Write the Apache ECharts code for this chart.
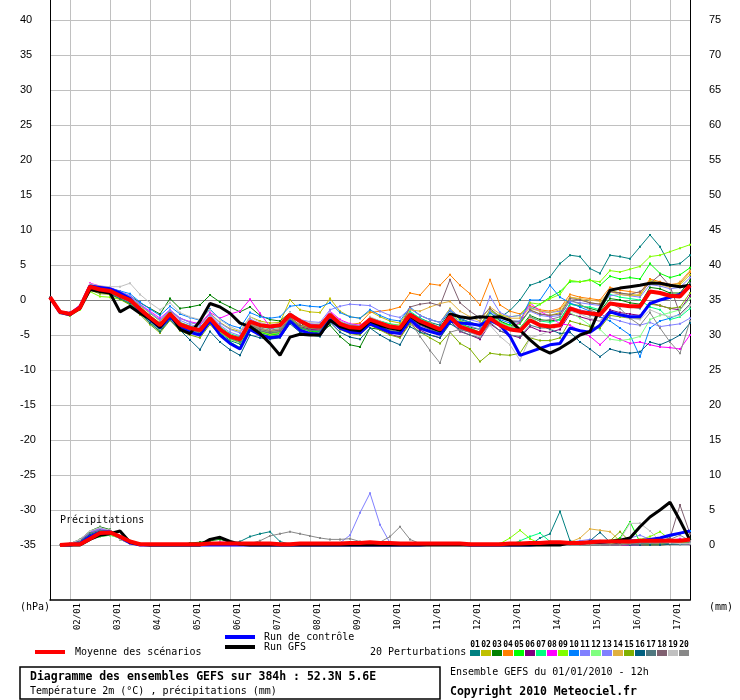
<!DOCTYPE html>
<html><head><meta charset="utf-8">
<script src="https://cdn.jsdelivr.net/npm/echarts@6/dist/echarts.min.js"></script>
<style>html,body{margin:0;padding:0;background:#fff}#c{width:740px;height:700px}</style>
</head><body><div id="c"></div>
<script>
// ---------- DATA (6-hourly, from 01/01/2010 12h, 65 steps = 384h) ----------
const dateLabels = ['02/01','03/01','04/01','05/01','06/01','07/01','08/01','09/01','10/01','11/01','12/01','13/01','14/01','15/01','16/01','17/01'];
const pertNames = ['01','02','03','04','05','06','07','08','09','10','11','12','13','14','15','16','17','18','19','20'];
const pertColors = ['#008080','#c0c000','#008000','#ff8000','#00ff00','#800080','#00ff80','#ff00ff','#80ff00','#0080ff','#8080ff','#80ff80','#8080ff','#e0b040','#80b000','#006080','#507880','#806070','#c0c0c0','#888888'];

// Temperature 2m (°C)
const tempMean = [0.4,-1.7,-2.0,-1.1,1.9,1.5,1.3,0.6,0.0,
 -1.3,-2.5,-3.6,-2.0,-3.5,-4.0,-4.3,-2.6,-4.2,-5.2,-5.6,
 -3.1,-3.6,-3.8,-3.6,-2.1,-3.0,-3.7,-3.8,-2.1,-3.4,-3.9,-4.0,
 -2.8,-3.3,-3.8,-4.0,-2.1,-3.0,-3.6,-4.2,-2.4,-3.8,-4.3,-4.8,
 -2.6,-3.6,-4.2,-4.4,-2.9,-3.6,-3.8,-3.6,
 -1.2,-1.7,-1.9,-2.1,-0.5,-0.7,-0.9,-0.9,1.2,1.0,0.6,0.5,2.1];
const tempControl = [0.4,-1.8,-2.1,-1.0,2.0,1.8,1.6,1.0,0.2,
 -1.5,-2.8,-4.0,-2.4,-3.8,-4.6,-5.0,-3.0,-5.0,-6.2,-7.0,
 -4.2,-5.0,-5.4,-5.2,-3.0,-4.3,-4.8,-4.9,-2.8,-4.0,-4.6,-4.7,
 -3.4,-4.0,-4.6,-4.8,-2.8,-4.0,-4.5,-4.9,-3.0,-3.3,-3.4,-3.6,
 -2.9,-3.6,-5.2,-7.9,-7.4,-6.9,-6.4,-6.2,
 -4.0,-4.4,-4.6,-3.6,-1.7,-2.1,-2.4,-2.4,-0.5,0.0,0.4,0.8,1.9];
const tempGFS = [0.4,-1.7,-2.0,-1.2,1.5,1.2,1.0,-1.7,-0.9,
 -1.9,-2.7,-3.9,-1.9,-4.2,-4.8,-3.0,-0.5,-1.0,-1.9,-3.3,
 -3.8,-4.8,-6.2,-7.9,-5.3,-4.9,-5.0,-5.0,-2.9,-3.8,-4.2,-4.4,
 -3.0,-3.6,-4.0,-4.3,-2.3,-3.3,-3.9,-4.4,-2.0,-2.4,-2.6,-2.4,
 -2.5,-2.4,-2.9,-4.3,-5.7,-6.9,-7.6,-6.9,
 -6.0,-5.0,-4.5,-1.2,1.4,1.7,1.9,2.1,2.4,2.4,2.1,1.9,2.1];

const tempP01 = [0.4,-1.8,-2.2,-1.2,1.7,1.4,1.2,0.5,-0.3,
 -1.6,-2.9,-4.1,-2.5,-4.0,-4.6,-5.0,-3.1,-4.6,-5.8,-6.3,
 -4.0,-4.6,-5.0,-4.8,-3.0,-4.0,-4.4,-4.5,-2.5,-3.8,-4.4,-4.6,
 -2.6,-3.0,-3.5,-3.8,-1.8,-2.6,-3.2,-3.6,-1.5,-2.8,-3.2,-3.6,
 -1.5,-2.5,-1.5,0.0,2.1,2.6,3.3,5.2,
 6.4,6.2,4.5,3.8,6.4,6.2,5.9,7.6,9.3,7.6,5.0,5.2,6.4];
const tempP02 = [0.4,-1.6,-1.9,-0.9,2.2,1.7,1.5,0.9,0.4,
 -0.8,-1.9,-3.0,-1.6,-2.6,-3.2,-3.6,-1.9,-3.2,-4.1,-4.5,
 -2.4,-3.0,-3.3,-3.2,0.0,-1.4,-1.7,-1.8,0.2,-1.6,-2.4,-2.6,
 -1.6,-2.4,-3.0,-3.3,-1.2,-2.2,-2.8,-3.2,-1.2,-2.6,-3.2,-3.6,
 -1.4,-2.4,-2.9,-3.1,-1.5,-2.0,-2.2,-1.8,
 0.4,0.1,-0.4,-0.6,1.4,1.0,0.8,0.6,2.8,2.4,2.0,2.2,3.6];
const tempP03 = [0.4,-1.7,-2.0,-1.0,1.8,1.6,1.5,1.0,0.6,
 -0.4,-1.2,-2.0,0.2,-1.2,-1.0,-0.7,0.7,-0.3,-1.0,-1.7,
 -1.0,-2.2,-2.8,-3.0,-1.8,-3.2,-4.4,-4.8,-3.6,-5.2,-6.4,-6.7,
 -4.0,-4.2,-4.6,-4.8,-2.6,-3.4,-3.9,-4.4,-2.2,-3.4,-3.9,-4.2,
 -1.8,-3.0,-3.6,-4.0,-2.2,-2.8,-3.0,-2.8,
 -0.6,-0.8,-1.2,-1.6,0.2,0.0,-0.4,-0.6,1.8,1.6,1.0,1.0,2.8];
const tempP04 = [0.4,-1.6,-1.9,-1.0,2.0,1.6,1.3,0.6,0.0,
 -1.2,-2.4,-3.5,-1.8,-3.2,-3.8,-4.2,-2.6,-4.0,-5.1,-5.6,
 -3.6,-4.3,-4.6,-4.4,-2.6,-3.8,-4.1,-4.2,-2.2,-3.2,-3.5,-3.3,
 -1.8,-1.6,-1.4,-1.0,1.0,0.7,2.3,2.1,3.6,2.1,0.9,-0.7,
 2.9,-0.7,-1.6,-2.0,-0.8,-1.4,-1.6,-1.2,
 0.8,0.4,0.2,0.0,1.8,1.4,1.2,1.0,3.0,2.6,2.2,2.4,4.0];
const tempP05 = [0.4,-1.8,-2.1,-1.1,1.7,1.3,1.1,0.4,-0.4,
 -1.7,-3.0,-4.2,-2.4,-3.9,-4.5,-5.0,-3.2,-4.8,-6.0,-6.8,
 -3.8,-4.6,-5.0,-4.8,-2.8,-4.0,-4.4,-4.6,-2.6,-3.9,-4.5,-4.7,
 -3.2,-3.8,-4.4,-4.6,-2.4,-3.4,-4.0,-4.7,-2.6,-3.9,-4.4,-5.0,
 -2.4,-3.2,-3.6,-3.4,-1.4,-0.6,0.4,1.2,
 2.6,2.6,2.9,2.1,3.4,3.0,3.2,3.0,5.2,3.8,3.2,3.6,4.6];
const tempP06 = [0.4,-1.7,-2.0,-1.1,1.9,1.5,1.2,0.5,-0.2,
 -1.5,-2.8,-3.9,-2.3,-3.6,-4.2,-4.6,-2.9,-4.3,-5.3,-5.9,
 -3.6,-4.4,-4.8,-4.6,-2.6,-3.8,-4.2,-4.3,-2.5,-3.8,-4.4,-4.6,
 -3.4,-4.2,-4.9,-5.3,-3.2,-4.3,-5.0,-5.4,-3.0,-4.5,-5.0,-5.6,
 -3.4,-4.4,-5.0,-5.4,-3.8,-4.4,-4.6,-4.2,
 -2.0,-2.4,-2.8,-3.0,-1.4,-1.8,-2.0,-2.2,-0.4,-0.8,-1.2,-1.4,0.6];
const tempP07 = [0.4,-1.7,-2.0,-1.0,2.1,1.7,1.4,0.8,0.2,
 -1.0,-2.2,-3.3,-1.8,-3.2,-3.7,-4.1,-2.5,-3.8,-4.8,-5.3,
 -3.1,-3.8,-4.1,-3.9,-2.1,-3.2,-3.5,-3.6,-1.8,-3.1,-3.6,-3.8,
 -2.5,-3.0,-3.4,-3.6,-1.6,-2.6,-3.3,-4.0,-2.0,-3.4,-4.0,-4.6,
 -2.2,-3.2,-3.8,-4.0,-2.4,-3.0,-3.2,-2.8,
 -0.6,-0.9,-1.0,-1.4,0.8,0.4,0.2,0.0,-1.0,-1.4,-2.8,-2.4,-1.2];
const tempP08 = [0.4,-1.6,-1.8,-0.7,2.4,2.0,1.8,1.2,0.6,
 -0.6,-1.6,-2.6,-1.4,-2.6,-3.1,-3.4,-1.8,-2.6,-2.0,-1.6,
 0.1,-1.9,-3.8,-4.8,-2.4,-3.2,-3.4,-3.6,-1.6,-2.8,-3.4,-3.6,
 -2.6,-3.4,-4.0,-4.4,-2.6,-3.6,-4.2,-4.8,-2.8,-4.2,-4.6,-5.2,
 -2.6,-3.8,-4.0,-3.2,-0.4,-1.6,-2.4,-3.4,
 -3.6,-4.4,-5.2,-6.4,-5.0,-5.6,-6.2,-6.0,-6.4,-6.7,-6.8,-7.0,-5.0];
const tempP09 = [0.4,-1.9,-2.3,-1.4,1.2,0.5,0.4,0.1,-0.6,
 -1.9,-3.2,-4.4,-2.6,-4.1,-4.7,-5.1,-3.2,-4.6,-5.6,-6.1,
 -3.8,-4.5,-4.9,-4.6,-2.6,-3.7,-4.0,-4.1,-2.3,-3.5,-4.0,-4.2,
 -2.8,-3.3,-3.8,-4.0,-2.0,-2.8,-3.3,-3.9,-2.0,-3.0,-3.4,-3.8,
 -1.6,-2.2,-2.4,-2.2,-0.4,-0.6,0.2,0.8,
 2.8,2.6,2.8,2.6,4.2,4.0,4.4,4.8,6.2,6.4,6.9,7.4,7.9];
const tempP10 = [0.4,-1.6,-1.8,-0.8,2.2,1.9,1.7,1.3,0.9,
 -0.3,-1.3,-2.2,-0.9,-2.0,-2.5,-2.9,-1.3,-2.7,-3.6,-4.0,
 -1.8,-2.4,-2.6,-2.4,-0.9,-0.7,-0.9,-1.0,-0.4,-1.8,-2.4,-2.6,
 -1.4,-2.2,-2.8,-3.0,-1.0,-2.2,-2.8,-3.2,-1.4,-2.6,-3.2,-3.8,
 -1.8,-2.8,-3.3,-3.0,0.0,0.0,2.1,0.4,
 -0.4,-1.0,-1.6,-2.4,-3.0,-4.0,-5.0,-8.1,-4.0,-3.0,-2.6,-2.0,-0.6];
const tempP11 = [0.4,-1.7,-2.0,-1.0,2.1,1.8,1.6,1.1,0.5,
 -0.7,-1.8,-2.8,-1.4,-2.6,-3.2,-3.6,-2.0,-3.3,-4.2,-4.7,
 -2.7,-3.4,-3.7,-3.5,-1.8,-2.8,-3.1,-3.2,-1.4,-0.9,-0.6,-0.7,
 -0.8,-1.6,-2.2,-2.5,-1.2,-2.2,-2.8,-3.2,-1.4,-2.4,-2.8,-3.2,
 0.5,-1.8,-2.4,-2.2,-1.0,-1.6,-1.8,-1.6,
 -1.0,-1.4,-1.8,-2.0,-2.6,-3.0,-3.4,-3.6,-3.2,-3.8,-3.6,-3.4,-2.6];
const tempP12 = [0.4,-1.8,-2.1,-1.2,1.6,1.2,1.0,0.3,-0.4,
 -1.8,-3.1,-4.2,-2.5,-3.9,-4.4,-4.8,-3.0,-4.4,-5.4,-5.9,
 -3.6,-4.3,-4.6,-4.4,-2.5,-3.6,-3.9,-4.0,-2.2,-3.5,-4.0,-4.2,
 -2.9,-3.5,-4.0,-4.3,-2.3,-3.2,-3.8,-4.4,-2.4,-3.8,-4.3,-4.8,
 -2.2,-3.2,-3.8,-4.0,-2.4,-3.4,-3.6,-3.4,
 -1.8,-2.6,-3.6,-4.2,-5.6,-5.8,-5.6,-5.2,-2.8,-2.2,-1.8,-1.4,0.2];
const tempP13 = [0.4,-1.6,-1.9,-0.9,2.3,1.9,1.7,1.2,0.6,
 -0.6,-1.8,-2.9,-1.5,-2.9,-3.5,-3.9,-2.2,-3.6,-4.6,-5.1,
 -3.0,-3.7,-4.0,-3.8,-2.0,-3.1,-3.4,-3.5,-1.8,-3.0,-3.5,-3.7,
 -2.6,-3.2,-3.7,-3.9,-1.9,-2.8,-3.4,-3.9,-2.0,-3.2,-3.7,-4.2,
 -1.6,-2.6,-3.0,-3.0,-1.6,-2.2,-2.4,-2.2,
 -0.2,-0.4,-0.6,-0.8,0.6,0.8,0.6,0.4,2.2,2.0,1.6,1.8,3.2];
const tempP14 = [0.4,-1.7,-2.0,-1.1,1.9,1.4,1.2,0.5,-0.1,
 -1.4,-2.6,-3.7,-2.1,-3.5,-4.0,-4.4,-2.8,-4.1,-5.1,-5.6,
 -3.4,-4.1,-4.4,-4.2,-2.4,-3.6,-3.9,-4.0,-2.3,-3.6,-4.1,-4.3,
 -3.0,-3.4,-3.6,-3.6,-1.4,-1.6,-1.0,-0.5,-0.2,-1.6,-2.4,-3.0,
 -1.0,-2.0,-2.6,-2.6,-1.2,-1.6,-1.8,-1.4,
 0.4,0.2,0.0,-0.2,1.2,0.8,0.6,0.8,2.6,2.2,1.8,2.6,4.2];
const tempP15 = [0.4,-1.8,-2.2,-1.3,1.4,0.9,0.8,0.1,-0.7,
 -2.1,-3.5,-4.7,-2.9,-4.4,-5.0,-5.4,-3.5,-5.0,-6.2,-7.0,
 -4.2,-4.8,-5.2,-5.0,-3.0,-4.2,-4.6,-4.8,-3.0,-4.2,-4.8,-5.0,
 -3.6,-4.3,-5.0,-5.4,-3.4,-4.6,-5.4,-6.2,-4.6,-6.2,-7.0,-8.8,
 -7.6,-7.8,-7.9,-7.6,-5.4,-5.8,-5.8,-5.4,
 -3.0,-3.4,-3.8,-4.0,-2.2,-2.4,-2.6,-2.6,-0.6,-0.8,-1.2,-1.0,1.0];
const tempP16 = [0.4,-1.8,-2.1,-1.2,1.6,1.1,0.9,0.2,-0.5,
 -1.9,-3.3,-4.5,-2.8,-4.3,-5.7,-7.1,-4.5,-6.0,-7.1,-7.9,
 -5.0,-5.4,-5.6,-5.4,-3.4,-4.6,-5.0,-5.2,-3.2,-4.6,-5.3,-5.6,
 -4.0,-5.0,-5.8,-6.4,-3.8,-4.6,-5.0,-5.4,-3.4,-4.2,-4.6,-5.0,
 -2.8,-3.6,-4.0,-4.2,-3.0,-3.6,-4.2,-4.8,
 -4.6,-6.0,-7.0,-8.1,-7.0,-7.4,-7.6,-7.4,-6.0,-6.4,-5.8,-5.0,-3.3];
const tempP17 = [0.4,-1.7,-2.0,-1.1,1.8,1.4,1.1,0.4,-0.3,
 -1.6,-2.9,-4.0,-2.3,-3.7,-4.3,-4.7,-3.0,-4.4,-5.5,-6.0,
 -3.7,-4.4,-4.7,-4.5,-2.7,-3.9,-4.3,-4.4,-2.6,-3.9,-4.4,-4.6,
 -3.2,-3.8,-4.3,-4.6,-2.6,-3.6,-4.2,-4.8,-3.0,-4.4,-5.0,-5.4,
 -3.2,-4.4,-5.0,-5.2,-3.6,-4.0,-4.0,-3.6,
 -1.4,-1.8,-2.2,-2.4,-0.6,-0.8,-1.0,-1.2,1.0,1.0,0.8,0.6,2.4];
const tempP18 = [0.4,-1.7,-2.0,-1.0,2.0,1.6,1.3,0.6,0.0,
 -1.3,-2.6,-3.7,-2.1,-3.5,-4.1,-4.5,-2.8,-4.2,-5.2,-5.7,
 -3.5,-4.2,-4.5,-4.3,-2.5,-3.6,-4.0,-4.1,-2.3,-3.6,-4.1,-4.3,
 -2.8,-3.4,-3.8,-4.0,-1.0,-0.6,-0.4,-0.8,2.9,-0.4,-1.6,-2.6,
 -1.2,-2.4,-3.0,-3.2,-1.4,-2.0,-2.2,-2.0,
 0.2,0.0,-0.4,-0.6,1.2,1.0,0.8,1.2,2.4,3.6,2.0,-2.0,-0.6];
const tempP19 = [0.4,-1.6,-1.9,-0.8,2.3,2.0,1.9,1.9,2.4,
 0.8,-0.4,-1.4,-0.4,-1.8,-2.4,-2.8,-1.4,-2.8,-3.8,-4.4,
 -2.4,-3.2,-3.6,-3.4,-1.8,-2.9,-3.2,-3.4,-1.8,-3.0,-3.6,-3.8,
 -2.4,-3.0,-3.6,-4.0,-2.2,-3.2,-3.8,-4.4,-2.6,-4.0,-4.6,-5.2,
 -3.6,-5.2,-6.4,-8.6,-5.4,-5.0,-4.4,-3.6,
 -1.6,-2.0,-2.6,-3.0,-1.8,-2.2,-2.6,-2.8,-1.4,-2.0,-2.4,-2.2,-0.8];
const tempP20 = [0.4,-1.7,-2.0,-1.1,1.8,1.4,1.2,0.5,-0.2,
 -1.5,-2.7,-3.8,-2.2,-3.6,-4.1,-4.5,-2.9,-4.2,-5.2,-5.6,
 -3.3,-4.0,-4.3,-4.1,-2.2,-3.3,-3.6,-3.7,-2.0,-3.2,-3.6,-3.8,
 -2.6,-3.4,-4.2,-4.8,-3.0,-5.2,-7.2,-9.0,-4.6,-4.2,-4.6,-5.0,
 -2.6,-3.6,-4.0,-4.4,-2.4,-3.0,-2.8,-2.4,
 0.0,-0.6,-1.4,-2.0,-0.4,-1.2,-2.6,-3.6,-1.8,-4.0,-6.0,-7.6,-3.0];

// Precipitation (mm per 6h), first step has no value
const precipMean = [null,0,0.1,0.1,0.9,1.7,1.8,1.2,0.5,0.1,0.1,0.1,0.1,
 0.1,0.1,0.1,0.2,0.2,0.2,0.2,0.2,0.2,0.2,0.1,0.1,0.2,
 0.2,0.2,0.2,0.2,0.3,0.3,0.4,0.3,0.3,0.2,0.2,0.2,0.2,
 0.2,0.2,0.2,0.1,0.1,0.1,0.1,0.2,0.2,0.3,0.3,0.4,0.4,
 0.3,0.3,0.4,0.5,0.5,0.5,0.5,0.6,0.6,0.6,0.6,0.6,0.8];
const precipControl = [null,0,0,0.2,1.2,1.8,1.9,1.1,0.3,0,0,0,0,
 0,0,0,0,0,0,0,0,0,0,0,0,0,
 0,0,0,0,0,0,0,0,0,0,0,0,0.1,
 0.1,0.1,0.1,0,0,0,0,0,0,0,0.1,0.1,0.2,
 0.3,0.3,0.4,0.4,0.5,0.5,0.6,0.6,0.8,1.0,1.4,1.7,2.0];
const precipGFS = [null,0,0,0,0.8,1.4,1.6,2.0,0.4,0.1,0,0,0,
 0,0,0,0.8,1.1,0.5,0.1,0,0,0,0,0,0,
 0,0,0,0,0,0,0,0,0,0,0,0,0,
 0,0,0,0,0,0,0,0,0,0,0,0,0,
 0.3,0.3,0.4,0.4,0.5,0.7,1.0,2.6,4.0,5.0,6.1,3.5,0.7];
const precipP01 = [null,0,0.1,0.5,1.6,2.2,2.0,1.0,0.3,0,0,0,0,
 0,0,0,0,0.1,0.2,0.5,1.2,1.6,1.9,0.5,0.1,0,
 0,0,0,0,0,0,0,0,0,0,0,0,0,
 0,0,0,0,0,0,0,0,0,0,1.0,1.6,4.8,
 0.6,0.3,0.2,0.2,0.1,0.1,0.1,0.1,0.2,0.2,0.2,0.3,0.4];
const precipP02 = [null,0,0,0.3,1.2,1.6,1.8,1.2,0.5,0.1,0,0,0,
 0,0,0,0,0,0,0,0,0,0,0,0,0,
 0,0,0,0,0,0,0.1,0.2,0.3,0.2,0,0,0,
 0,0,0,0,0,0,0,0,0,0,0,0,0,
 0,0,0.2,0.4,0.3,0.2,0.1,0,0,0.2,0.4,0.6,0.8];
const precipP03 = [null,0,0.2,0.8,2.0,2.6,2.2,0.8,0.2,0,0,0,0,
 0,0.3,0.4,0.6,0.8,0.4,0.1,0,0,0,0,0,0,
 0,0,0,0,0,0,0,0,0,0,0,0,0,
 0,0,0,0,0,0,0,0.2,0.3,0.2,0,0,0,
 0,0,0,0,0,0,0.1,0.2,0.2,0.3,0.4,0.6,0.9];
const precipP04 = [null,0,0.1,0.4,1.4,1.9,1.9,1.1,0.3,0,0,0,0,
 0,0,0,0,0,0,0,0,0,0,0,0,0,
 0,0,0,0,0,0,0,0,0,0,0,0,0.1,
 0.2,0.3,0.3,0.2,0.1,0,0,0,0,0,0,0,0,
 0,0,0.1,0.2,0.1,0,0,0,0,0,0.1,0.2,0.3];
const precipP05 = [null,0,0,0.2,0.8,1.2,1.4,1.0,0.4,0.1,0,0,0,
 0,0,0,0,0,0,0,0,0,0,0,0,0,
 0,0,0,0,0,0,0,0,0,0,0,0,0,
 0,0,0,0,0,0,0,0,0,0,0,0,0,
 0,0.2,0.3,0.5,0.6,1.0,3.3,0.4,0.2,0.3,0.4,0.5,0.7];
const precipP06 = [null,0,0.1,0.6,1.8,2.4,2.1,0.9,0.2,0,0,0,0,
 0,0,0,0,0,0,0,0,0,0,0,0,0,
 0,0,0,0,0,0,0,0,0,0,0,0,0,
 0,0,0,0,0,0,0,0,0,0,0,0,0,
 0,0,0,0,0,0,0,0.2,0.4,0.6,0.4,0.2,0.1];
const precipP07 = [null,0,0,0.3,1.3,1.8,1.9,1.1,0.4,0.1,0,0,0,
 0,0,0,0,0,0,0,0,0,0,0,0,0,
 0,0,0,0,0,0,0,0,0,0,0,0,0,
 0,0,0,0,0,0,0,0,0.6,1.2,1.7,0.5,0.1,
 0,0,0,0,0.1,0.2,0.3,0.3,0.2,0.2,0.3,0.4,0.5];
const precipP08 = [null,0,0.2,0.7,1.8,2.3,2.0,0.9,0.2,0,0,0,0,
 0,0,0,0.3,0.4,0.4,0.3,0,0,0,0,0,0,
 0,0,0,0,0,0,0,0,0,0,0,0,0,
 0,0,0,0,0,0,0,0,0,0,0,0,0,
 0,0,0,0,0,0,0,0,0.1,0.3,0.6,0.9,0.5];
const precipP09 = [null,0,0.1,0.4,1.0,1.3,1.5,1.2,0.6,0.2,0,0,0,
 0,0,0,0,0,0,0,0,0,0,0,0,0,
 0,0,0,0,0,0,0,0,0,0,0,0,0,
 0,0,0,0,0,0,0.2,1.0,2.1,0.9,0.2,0,0,
 0,0,0,0,0.2,0.4,0.6,0.8,1.2,1.9,0.8,0.5,0.6];
const precipP10 = [null,0,0,0.3,1.2,1.6,1.7,1.1,0.5,0.1,0,0,0,
 0,0,0,0,0,0,0,0,0,0,0,0,0,
 0,0,0,0,0,0,0,0,0,0,0,0,0,
 0,0,0,0,0,0,0,0,0,0,0,0,0,
 0,0,0.1,0.2,0.3,0.4,0.5,0.6,0.8,1.0,1.2,1.6,2.0];
const precipP11 = [null,0,0.2,0.6,1.8,2.4,2.0,0.9,0.2,0,0,0,0,
 0,0,0,0,0,0,0,0,0,0,0,0,0,
 0,0,0.1,0.3,1.4,4.6,7.4,2.9,0.3,0,0,0,0,
 0,0,0,0,0,0,0,0,0,0,0,0,0,
 0,0,0,0,0.2,0.6,1.0,1.4,0.8,0.4,0.3,0.3,0.4];
const precipP12 = [null,0,0,0.2,0.8,1.2,1.4,1.0,0.4,0.1,0,0,0,
 0,0,0,0,0,0,0,0,0,0,0,0,0,
 0,0,0,0,0,0,0,0,0,0,0,0,0,
 0,0,0,0,0,0,0,0,0,0,0,0,0,
 0,0,0,0.1,0.2,0.2,0.3,0.4,0.6,0.4,0.3,0.2,0.2];
const precipP13 = [null,0,0.1,0.5,1.6,2.2,2.0,1.0,0.3,0,0,0,0,
 0,0,0,0,0,0,0,0,0,0,0,0,0,
 0,0,0,0,0,0,0,0,0,0,0,0,0,
 0,0,0,0,0,0,0,0,0,0,0.1,0.2,0.3,
 0.4,0.6,0.8,0.6,0.4,0.3,0.4,0.5,0.6,0.4,0.3,0.3,0.4];
const precipP14 = [null,0,0.1,0.4,1.4,1.9,1.9,1.1,0.3,0,0,0,0,
 0,0,0,0,0,0,0,0,0,0,0,0,0,
 0,0,0,0,0,0,0,0,0,0,0,0,0,
 0,0,0,0,0,0,0,0,0,0,0,0,0,
 0.4,1.0,2.3,2.1,1.9,0.6,0.2,0.1,0.1,0.2,0.2,0.3,0.3];
const precipP15 = [null,0,0,0.3,1.1,1.5,1.6,1.2,0.5,0.1,0,0,0,
 0,0,0,0,0,0,0,0,0,0,0,0,0,
 0,0,0,0,0,0,0,0,0,0,0,0,0,
 0,0,0,0,0,0,0,0,0,0,0,0,0,
 0,0.1,0.2,0.3,0.6,1.9,0.5,0.2,0.1,0.1,0.2,0.3,0.3];
const precipP16 = [null,0,0.1,0.5,1.5,2.0,1.9,1.0,0.3,0,0,0,0,
 0,0,0,0,0,0,0,0,0,0,0,0,0,
 0,0,0,0,0,0,0,0,0,0,0,0,0,
 0,0,0,0,0,0,0,0,0,0,0,0,0,
 0,0.2,0.6,1.8,0.4,0.1,0,0,0,0,0.1,0.1,0.2];
const precipP17 = [null,0,0.1,0.6,1.7,2.1,1.9,1.0,0.3,0,0,0,0,
 0,0,0,0,0,0,0,0,0,0,0,0,0,
 0,0,0,0,0,0,0,0,0,0,0,0,0,
 0,0,0,0,0,0,0,0,0,0,0,0,0,
 0,0,0,0,0,0,0.1,0.2,0.3,0.3,0.2,0.2,0.3];
const precipP18 = [null,0,0,0.3,1.2,1.7,1.8,1.1,0.4,0.1,0,0,0,
 0,0,0,0,0,0,0,0,0,0,0,0,0,
 0,0,0,0,0,0,0,0,0,0,0,0,0,
 0,0,0,0,0,0,0,0,0,0,0,0,0,
 0,0,0,0,0,0.1,0.2,0.3,0.4,0.6,1.0,5.7,1.6];
const precipP19 = [null,0,0.2,0.8,2.0,2.5,2.1,0.8,0.2,0,0,0,0,
 0,0,0,0,0,0,0,0,0,0,0,0,0,
 0,0,0,0,0,0,0,0,0,0,0,0,0,
 0,0,0,0,0,0,0,0,0,0,0,0,0,
 0,0,0.1,0.2,0.4,0.8,3.1,3.1,2.0,0.6,0.3,0.2,0.2];
const precipP20 = [null,0,0.1,0.4,1.3,1.8,1.8,1.0,0.4,0.1,0,0,0,
 0,0,0,0,0,0,0,0.2,0.6,1.3,1.6,1.9,1.6,
 1.3,1.0,0.8,0.8,0.9,0.5,0.3,0.4,1.2,2.6,0.8,0.2,0,
 0,0,0,0,0,0,0,0,0,0,0,0,0,
 0,0,0,0,0,0,0.2,0.3,0.3,0.4,0.8,1.4,0.6];

const tempPert = [tempP01,tempP02,tempP03,tempP04,tempP05,tempP06,tempP07,tempP08,tempP09,tempP10,tempP11,tempP12,tempP13,tempP14,tempP15,tempP16,tempP17,tempP18,tempP19,tempP20];
const precipPert = [precipP01,precipP02,precipP03,precipP04,precipP05,precipP06,precipP07,precipP08,precipP09,precipP10,precipP11,precipP12,precipP13,precipP14,precipP15,precipP16,precipP17,precipP18,precipP19,precipP20];

// ---------- CHART ----------
const MONO = '"DejaVu Sans Mono", monospace';
const SANS = '"Liberation Sans", Arial, sans-serif';
const steps = tempMean.map((_, i) => String(i * 6)); // hours since run
const isDayTick = (idx) => idx % 4 === 2;
const yTicks = []; for (let v = -35; v <= 40; v += 5) yTicks.push(v);
const hLineColors = yTicks.map(v => v === 0 ? '#808080' : '#c0c0c0');

function mk(name, data, color, width, z, yIdx, sym) {
  return {
    type: 'line', name, data, xAxisIndex: 1, yAxisIndex: yIdx,
    lineStyle: { color, width }, itemStyle: { color },
    showSymbol: !!sym, symbol: sym ? 'rect' : 'none', symbolSize: 2,
    z, clip: false, silent: true, animation: false, connectNulls: false,
    emphasis: { disabled: true }
  };
}

const series = [];
tempPert.forEach((d, k) => series.push(mk(pertNames[k], d, pertColors[k], 1, 2, 2, true)));
precipPert.forEach((d, k) => series.push(mk(pertNames[k], d, pertColors[k], 1, 2, 3, true)));
series.push(mk('Run de contrôle', tempControl, '#0000ff', 3, 3, 2, false));
series.push(mk('Run GFS', tempGFS, '#000000', 3, 3, 2, false));
series.push(mk('Run de contrôle', precipControl, '#0000ff', 3, 3, 3, false));
series.push(mk('Run GFS', precipGFS, '#000000', 3, 3, 3, false));
series.push(mk('Moyenne des scénarios', tempMean, '#ff0000', 4, 5, 2, false));
series.push(mk('Moyenne des scénarios', precipMean, '#ff0000', 4, 5, 3, false));

const graphic = [];
graphic.push({ type: 'rect', x: 20, y: 667, shape: { width: 420, height: 32 }, style: { fill: '#fff', stroke: '#000', lineWidth: 1.5 } });
const txt = (text, x, y, size, bold) => ({ type: 'text', x, y, style: { text, fontFamily: MONO, fontSize: size, fontWeight: bold ? 'bold' : 'normal', fill: '#000', align: 'left', verticalAlign: 'middle' } });
graphic.push(txt('Diagramme des ensembles GEFS sur 384h : 52.3N 5.6E', 30, 677, 11.5, true));
graphic.push(txt('Température 2m (°C) , précipitations (mm)', 30, 691, 10, false));
graphic.push(txt('Ensemble GEFS du 01/01/2010 - 12h', 450, 672, 10, false));
graphic.push(txt('Copyright 2010 Meteociel.fr', 450, 692, 11.5, true));
graphic.push(txt('20 Perturbations', 370, 652, 10, false));
graphic.push(txt('(hPa)', 20, 607, 10, false));
graphic.push(txt('(mm)', 709, 607, 10, false));
graphic.push(txt('Précipitations', 60, 520, 10, false));
pertColors.forEach((c, k) => {
  graphic.push({ type: 'rect', x: 470 + 11 * k, y: 650, shape: { width: 10, height: 6 }, style: { fill: c } });
  graphic.push({ type: 'text', x: 475 + 11 * k, y: 644.5, style: { text: pertNames[k], fontFamily: MONO, fontSize: 8, fontWeight: 'bold', fill: '#000', align: 'center', verticalAlign: 'middle' } });
});

const chart = echarts.init(document.getElementById('c'), null, { renderer: 'canvas' });
chart.setOption({
  animation: false,
  backgroundColor: '#ffffff',
  grid: [
    { left: 50, right: 50, top: 0, bottom: 100, containLabel: false, outerBoundsMode: 'none' },
    { left: 50, right: 50, top: 20, bottom: 155, containLabel: false, outerBoundsMode: 'none' }
  ],
  xAxis: [
    {
      type: 'category', gridIndex: 0, data: steps, boundaryGap: false,
      axisLine: { show: true, onZero: false, lineStyle: { color: '#000', width: 1.5 } },
      axisTick: { show: false },
      axisLabel: {
        interval: (idx) => isDayTick(idx),
        formatter: (v, idx) => isDayTick(idx) ? dateLabels[(idx - 2) / 4] : '',
        rotate: 90, margin: 3, verticalAlign: 'top', lineHeight: 15,
        fontFamily: MONO, fontSize: 9, color: '#000'
      },
      splitLine: { show: true, interval: (idx) => isDayTick(idx), lineStyle: { color: '#c0c0c0', width: 1 } }
    },
    { type: 'category', gridIndex: 1, data: steps, boundaryGap: false, show: false }
  ],
  yAxis: [
    { type: 'value', gridIndex: 0, min: 0, max: 1, position: 'left',
      axisLine: { show: true, lineStyle: { color: '#000', width: 1 } },
      axisTick: { show: false }, axisLabel: { show: false }, splitLine: { show: false } },
    { type: 'value', gridIndex: 0, min: 0, max: 1, position: 'right',
      axisLine: { show: true, lineStyle: { color: '#000', width: 1 } },
      axisTick: { show: false }, axisLabel: { show: false }, splitLine: { show: false } },
    { type: 'value', gridIndex: 1, min: -35, max: 40, interval: 5, position: 'left',
      axisLine: { show: false }, axisTick: { show: false },
      axisLabel: { margin: 30, align: 'left', fontFamily: SANS, fontSize: 11, color: '#000' },
      splitLine: { show: true, lineStyle: { color: hLineColors, width: 1 } } },
    { type: 'value', gridIndex: 1, min: 0, max: 75, interval: 5, position: 'right',
      axisLine: { show: false }, axisTick: { show: false },
      axisLabel: { margin: 19, align: 'left', fontFamily: SANS, fontSize: 11, color: '#000' },
      splitLine: { show: false } }
  ],
  legend: [
    { data: ['Moyenne des scénarios'], left: 35, top: 646, padding: 0, itemWidth: 30, itemHeight: 4, icon: 'rect',
      selectedMode: false, textStyle: { fontFamily: MONO, fontSize: 10, lineHeight: 12, color: '#000', padding: [0, 0, 0, 5] } },
    { data: ['Run de contrôle', 'Run GFS'], orient: 'vertical', left: 225, top: 632, padding: 0, itemGap: 0,
      itemWidth: 30, itemHeight: 4, icon: 'rect', selectedMode: false,
      textStyle: { fontFamily: MONO, fontSize: 10, lineHeight: 10, color: '#000', padding: [0, 0, 0, 4] } }
  ],
  graphic,
  series
});
</script></body></html>
